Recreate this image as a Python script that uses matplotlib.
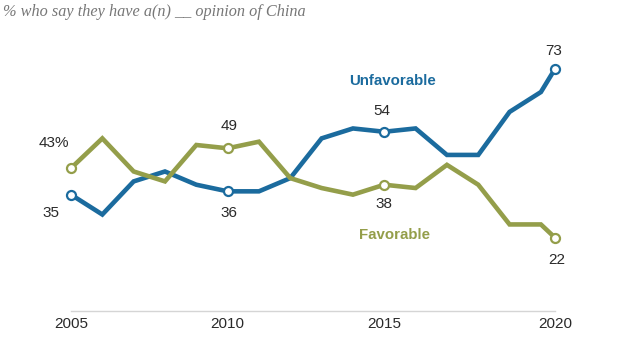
import matplotlib
matplotlib.use("Agg")
import matplotlib.pyplot as plt

# survey dates (two surveys in 2020: spring and summer)
years = [2005, 2006, 2007, 2008, 2009, 2010, 2011, 2012, 2013, 2014,
         2015, 2016, 2017, 2018, 2019, 2020.0, 2020.45]
unfavorable = [35, 29, 39, 42, 38, 36, 36, 40, 52, 55, 54, 55, 47, 47, 60, 66, 73]
favorable = [43, 52, 42, 39, 50, 49, 51, 40, 37, 35, 38, 37, 44, 38, 26, 26, 22]
tick_pos = [2005, 2010, 2015, 2020.45]
tick_labels = ["2005", "2010", "2015", "2020"]
marked = [0, 5, 10, 16]  # points with circle markers and value labels

blue = "#1b6b9e"
green = "#949e4a"
txt = "#2a2a2a"

plt.rcParams['font.family'] = ['Liberation Sans', 'DejaVu Sans']

fig = plt.figure(figsize=(6.4, 3.6), dpi=100)
ax = fig.add_axes([71 / 640, 1 - 310.5 / 360, 484 / 640, 264.8 / 360])

for vals, col in [(unfavorable, blue), (favorable, green)]:
    ax.plot(years, vals, color=col, lw=3.3, solid_joinstyle='miter', clip_on=False, zorder=2)
    ax.plot([years[i] for i in marked], [vals[i] for i in marked], 'o', ms=6.5,
            mfc='white', mec=col, mew=1.6, clip_on=False, zorder=3)

# value labels (offsets in pixels from the point)
unf_off = [(-20, -18), (1, -22), (-2, 21), (-1, 18)]
fav_off = [(-17, 25), (1, 22), (0, -19), (2, -22)]
for k, i in enumerate(marked):
    u = str(unfavorable[i])
    f = str(favorable[i]) + ("%" if k == 0 else "")
    ax.annotate(u, (years[i], unfavorable[i]), xytext=unf_off[k], textcoords='offset pixels',
                ha='center', va='center', fontsize=11, color=txt)
    ax.annotate(f, (years[i], favorable[i]), xytext=fav_off[k], textcoords='offset pixels',
                ha='center', va='center', fontsize=11, color=txt)

ax.text(2015.25, 69.3, "Unfavorable", color=blue, fontsize=10.8, fontweight='bold',
        ha='center', va='center')
ax.text(2015.34, 22.8, "Favorable", color=green, fontsize=10.8, fontweight='bold',
        ha='center', va='center')

ax.set_xlim(2005, 2020.45)
ax.set_ylim(0, 80)
ax.set_xticks(tick_pos)
ax.set_xticklabels(tick_labels, fontsize=11, color=txt)
ax.tick_params(axis='x', length=0, pad=5)
ax.set_yticks([])
for s in ['top', 'right', 'left']:
    ax.spines[s].set_visible(False)
ax.spines['bottom'].set_color('#d5d5d5')
ax.spines['bottom'].set_linewidth(1)

fig.text(0.005, 1 - 12 / 360, "% who say they have a(n) __ opinion of China",
         fontsize=11.7, style='italic', family='Liberation Serif', color='#777777',
         ha='left', va='center')

fig.savefig("out.png", dpi=100)
